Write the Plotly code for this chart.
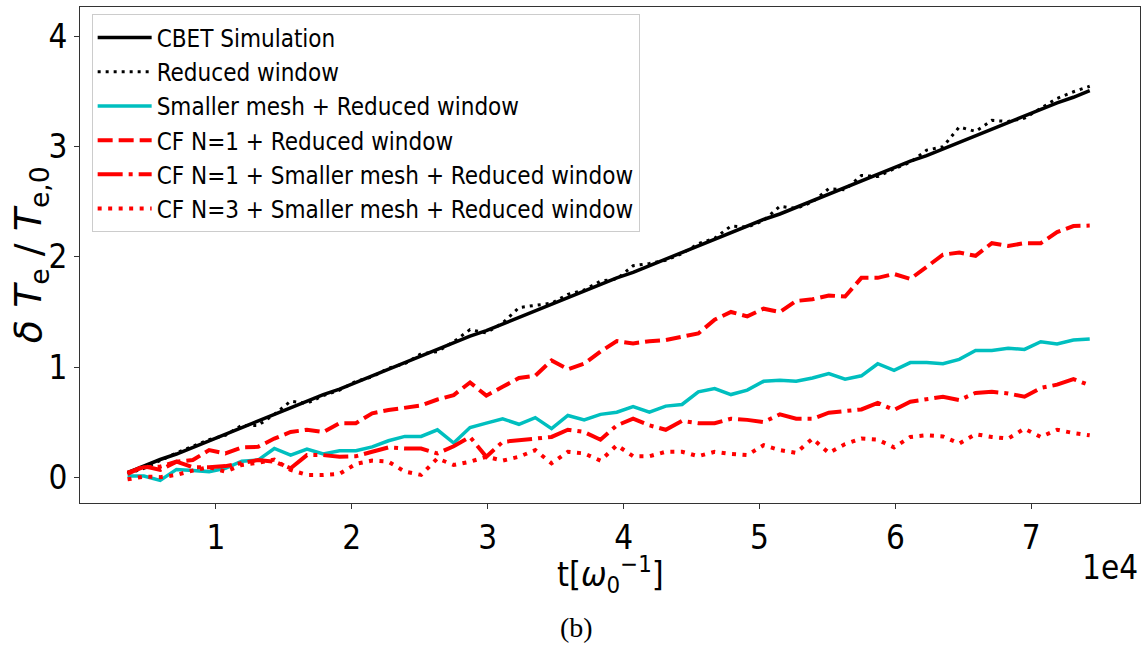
import plotly.graph_objects as go

# time grid (omega_0^-1)
t = [3500, 4700, 5900, 7100, 8300, 9500, 10700, 11900, 13100, 14300,
     15500, 16700, 17900, 19100, 20300, 21500, 22700, 23900, 25100, 26300,
     27500, 28700, 29900, 31100, 32300, 33500, 34700, 35900, 37100, 38300,
     39500, 40700, 41900, 43100, 44300, 45500, 46700, 47900, 49100, 50300,
     51500, 52700, 53900, 55100, 56300, 57500, 58700, 59900, 61100, 62300,
     63500, 64700, 65900, 67100, 68300, 69500, 70700, 71900, 73100, 74300]

cbet = [0.04, 0.10, 0.16, 0.21, 0.27, 0.33, 0.39, 0.45, 0.51, 0.57,
        0.63, 0.69, 0.75, 0.80, 0.86, 0.92, 0.98, 1.04, 1.10, 1.16,
        1.22, 1.28, 1.33, 1.39, 1.45, 1.51, 1.57, 1.63, 1.69, 1.75,
        1.81, 1.86, 1.92, 1.98, 2.04, 2.10, 2.16, 2.22, 2.28, 2.34,
        2.39, 2.45, 2.51, 2.57, 2.63, 2.69, 2.75, 2.81, 2.87, 2.92,
        2.98, 3.04, 3.10, 3.16, 3.22, 3.28, 3.34, 3.40, 3.45, 3.51]

reduced = [0.03, 0.08, 0.15, 0.22, 0.28, 0.34, 0.38, 0.47, 0.47, 0.57,
           0.69, 0.67, 0.74, 0.79, 0.87, 0.91, 0.99, 1.03, 1.12, 1.14,
           1.23, 1.34, 1.31, 1.40, 1.54, 1.56, 1.58, 1.66, 1.70, 1.78,
           1.80, 1.92, 1.94, 1.97, 2.03, 2.12, 2.17, 2.28, 2.27, 2.33,
           2.46, 2.44, 2.50, 2.62, 2.61, 2.74, 2.73, 2.80, 2.86, 2.97,
           3.00, 3.18, 3.14, 3.24, 3.23, 3.26, 3.35, 3.44, 3.50, 3.55]

smaller_mesh = [0.01, 0.01, -0.03, 0.07, 0.06, 0.05, 0.08, 0.145, 0.155, 0.26,
                0.20, 0.255, 0.21, 0.24, 0.24, 0.275, 0.33, 0.37, 0.37, 0.43,
                0.31, 0.45, 0.49, 0.53, 0.48, 0.54, 0.44, 0.56, 0.52, 0.57,
                0.59, 0.64, 0.59, 0.645, 0.66, 0.775, 0.805, 0.75, 0.79, 0.87,
                0.88, 0.87, 0.90, 0.94, 0.89, 0.92, 1.03, 0.97, 1.04, 1.04,
                1.03, 1.07, 1.15, 1.15, 1.17, 1.16, 1.23, 1.21, 1.245, 1.255]

cf1_reduced = [0.03, 0.10, 0.065, 0.14, 0.155, 0.245, 0.215, 0.27, 0.275, 0.35,
               0.41, 0.43, 0.41, 0.49, 0.49, 0.58, 0.61, 0.63, 0.65, 0.705,
               0.745, 0.86, 0.74, 0.82, 0.90, 0.92, 1.06, 0.98, 1.03, 1.14,
               1.235, 1.215, 1.235, 1.245, 1.275, 1.305, 1.43, 1.50, 1.46, 1.53,
               1.50, 1.60, 1.615, 1.65, 1.64, 1.81, 1.81, 1.845, 1.80, 1.91,
               2.02, 2.04, 2.01, 2.125, 2.10, 2.125, 2.125, 2.225, 2.28, 2.285]

cf1_mesh = [0.04, 0.09, 0.095, 0.14, 0.09, 0.09, 0.10, 0.13, 0.155, 0.14,
            0.08, 0.20, 0.20, 0.185, 0.19, 0.23, 0.27, 0.26, 0.26, 0.215,
            0.28, 0.365, 0.185, 0.32, 0.335, 0.345, 0.365, 0.43, 0.41, 0.34,
            0.47, 0.53, 0.47, 0.43, 0.51, 0.49, 0.49, 0.53, 0.52, 0.50,
            0.57, 0.53, 0.53, 0.585, 0.60, 0.615, 0.675, 0.61, 0.685, 0.71,
            0.73, 0.70, 0.765, 0.775, 0.76, 0.73, 0.81, 0.84, 0.89, 0.835]

cf3_mesh = [-0.02, 0.005, 0.0, 0.02, 0.06, 0.09, 0.05, 0.11, 0.13, 0.16,
            0.065, 0.02, 0.02, 0.03, 0.12, 0.15, 0.14, 0.05, 0.02, 0.17,
            0.11, 0.14, 0.185, 0.15, 0.185, 0.245, 0.125, 0.23, 0.215, 0.15,
            0.29, 0.19, 0.19, 0.23, 0.23, 0.19, 0.23, 0.21, 0.20, 0.29,
            0.245, 0.22, 0.35, 0.22, 0.30, 0.35, 0.34, 0.27, 0.365, 0.38,
            0.37, 0.305, 0.39, 0.365, 0.35, 0.44, 0.365, 0.43, 0.40, 0.38]

x_tick_vals = [10000, 20000, 30000, 40000, 50000, 60000, 70000]
x_tick_text = ["1", "2", "3", "4", "5", "6", "7"]
y_tick_vals = [0, 1, 2, 3, 4]

series = [
    ("CBET Simulation", cbet, "black", "solid", 3.5),
    ("Reduced window", reduced, "black", "3px,5px", 3),
    ("Smaller mesh + Reduced window", smaller_mesh, "#00BFBF", "solid", 3.5),
    ("CF N=1 + Reduced window", cf1_reduced, "#FF0000", "15px,6px", 4),
    ("CF N=1 + Smaller mesh + Reduced window", cf1_mesh, "#FF0000", "25px,6px,4px,6px", 4),
    ("CF N=3 + Smaller mesh + Reduced window", cf3_mesh, "#FF0000", "4px,6.5px", 4),
]

fig = go.Figure()
for i, (name, ys, col, dash, w) in enumerate(series):
    fig.add_trace(go.Scatter(x=t, y=ys, mode="lines", name=name,
                             legendgroup="g%d" % i,
                             line=dict(color=col, dash=dash, width=w)))

FONT = "DejaVu Sans Condensed, DejaVu Sans"
fig.update_layout(
    width=1145, height=651,
    margin=dict(l=80, r=5, t=7, b=148),
    plot_bgcolor="white", paper_bgcolor="white",
    font=dict(family=FONT, color="black"),
    showlegend=True,
    legend=dict(x=0.011, y=0.985, xanchor="left", yanchor="top",
                bgcolor="rgba(255,255,255,0.85)", bordercolor="#cccccc",
                borderwidth=1, font=dict(size=24, family=FONT),
                itemwidth=54,
                tracegroupgap=0, traceorder="grouped"),
)
fig.update_xaxes(range=[0, 78000], tickvals=x_tick_vals, ticktext=x_tick_text,
                 showgrid=False, zeroline=False, showline=True, linecolor="#333333",
                 linewidth=1, mirror=True, ticks="outside", ticklen=5,
                 tickcolor="#333333", tickfont=dict(size=33, family=FONT))
fig.update_yaxes(range=[-0.235, 4.27], tickvals=y_tick_vals,
                 showgrid=False, zeroline=False, showline=True, linecolor="#333333",
                 linewidth=1, mirror=True, ticks="outside", ticklen=5,
                 tickcolor="#333333", tickfont=dict(size=33, family=FONT))

fig.add_annotation(text="t[<i>ω</i><sub>0</sub><sup>−1</sup>]", xref="paper", yref="paper",
                   x=0.5, y=-0.145, showarrow=False, xanchor="center", yanchor="middle",
                   font=dict(size=34, family=FONT))
fig.add_annotation(text="1e4", xref="paper", yref="paper",
                   x=1.0, y=-0.131, showarrow=False, xanchor="right", yanchor="middle",
                   font=dict(size=33, family=FONT))
fig.add_annotation(text="<i>δ T</i><sub>e</sub> / <i>T</i><sub>e,0</sub>", xref="paper", yref="paper",
                   x=-0.047, y=0.5, showarrow=False, textangle=-90,
                   xanchor="center", yanchor="middle",
                   font=dict(size=38, family="DejaVu Sans"))
fig.add_annotation(text="(b)", xref="paper", yref="paper",
                   x=0.468, y=-0.252, showarrow=False, xanchor="center", yanchor="middle",
                   font=dict(size=28, family="Liberation Serif"))

fig.write_html("out.html", config={"displayModeBar": False},
               post_script="document.body.style.margin='0px';")
